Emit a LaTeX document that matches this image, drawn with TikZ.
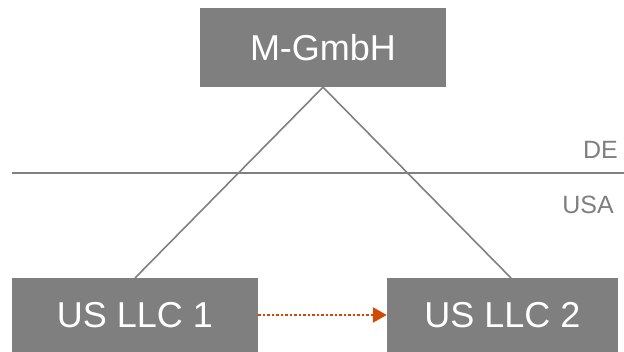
\documentclass[tikz,border=0pt]{standalone}
\usepackage{fontspec}
\setmainfont{Liberation Sans}
\usetikzlibrary{arrows.meta}
\definecolor{boxgray}{HTML}{7F7F7F}
\definecolor{linegray}{HTML}{808080}
\definecolor{flowor}{HTML}{D04A02}
\begin{document}
\begin{tikzpicture}[x=1pt,y=1pt,
  entity/.style={fill=boxgray, text=white, font=\fontsize{36}{40}\selectfont, inner sep=0pt},
  region/.style={text=boxgray, font=\fontsize{25}{30}\selectfont, anchor=east, inner sep=0pt},
  link/.style={draw=linegray, line width=1.6pt}]
\useasboundingbox (0,0) rectangle (624,352);
\node[entity, minimum width=246pt, minimum height=79pt] (top) at (323,304.5) {M-GmbH};
\node[entity, minimum width=246pt, minimum height=74pt] (llc1) at (135,37) {US LLC 1};
\node[entity, minimum width=231pt, minimum height=74pt] (llc2) at (502.5,37) {US LLC 2};
\coordinate (b1) at (135,74);
\coordinate (b2) at (511,74);
\draw[link] (top.south) -- (b1);
\draw[link] (top.south) -- (b2);
\coordinate (bl) at (12,179);
\coordinate (br) at (624,179);
\draw[link, line width=2pt] (bl) -- (br);
\node[region] (de) at (618,202) {DE};
\node[region] (usa) at (614,147) {USA};
\draw[flowor, line width=2.5pt, dotted, -{Triangle[length=14pt,width=15pt]}] (llc1.east) -- (llc2.west);
\end{tikzpicture}
\end{document}
